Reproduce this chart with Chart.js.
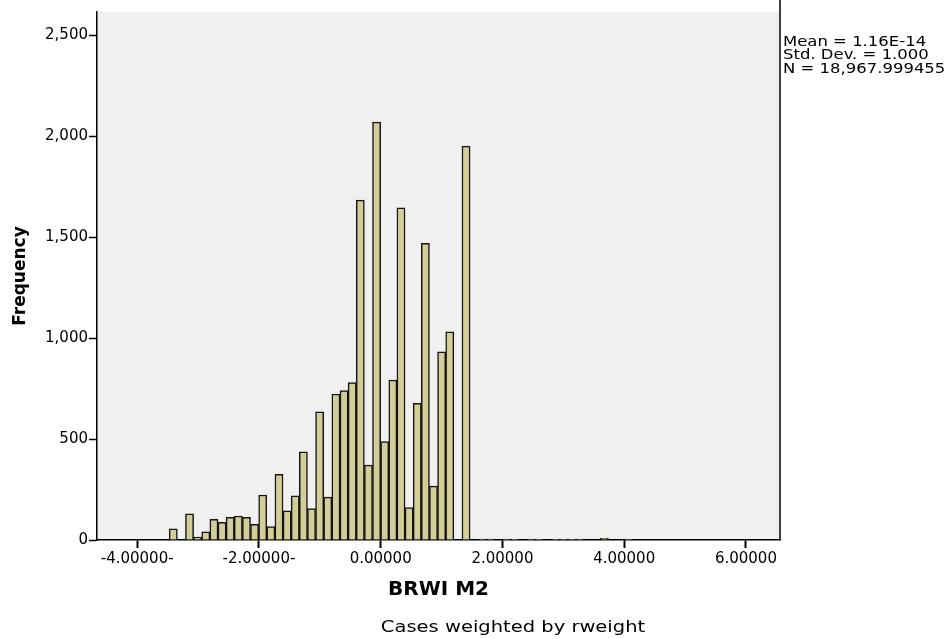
<!DOCTYPE html>
<html>
<head>
<meta charset="utf-8">
<script src="https://cdn.jsdelivr.net/npm/chart.js@4.4.1/dist/chart.umd.min.js"></script>
<style>
  body { margin: 0; background: #fff; }
  canvas { display: block; }
</style>
</head>
<body>
<canvas id="hist" width="952" height="639"></canvas>
<script>
"use strict";

//////// histogram data ////////
const binStart = -3.474;
const binWidth = 0.1336;
const binCounts = [
  55, 0, 130, 15, 40, 102, 88, 112, 119, 112,
  77, 223, 66, 325, 144, 219, 436, 155, 634, 212,
  723, 740, 779, 1683, 371, 2069, 487, 792, 1644, 160,
  677, 1469, 267, 932, 1030, 0, 1950, 0, 4, 4,
  0, 4, 3, 0, 4, 3, 0, 3, 3, 3,
  4, 0, 0, 8, 0, 0, 3
];
const xTicks = [-4, -2, 0, 2, 4, 6];
const xTickLabels = ["-4.00000-", "-2.00000-", "0.00000", "2.00000", "4.00000", "6.00000"];
const yTicks = [0, 500, 1000, 1500, 2000, 2500];
const statLines = ["Mean = 1.16E-14", "Std. Dev. = 1.000", "N = 18,967.999455"];
const footNote = "Cases weighted by rweight";

const points = binCounts.map((n, i) => ({ x: binStart + (i + 0.5) * binWidth, y: n }));

const font = "'DejaVu Sans', 'Liberation Sans', Arial, sans-serif";

// squeeze/stretch text horizontally like the spss output does
function wideText(ctx, txt, x, y, sx, align) {
  ctx.save();
  ctx.translate(x, y);
  ctx.scale(sx, 1);
  ctx.textAlign = align || "left";
  ctx.fillText(txt, 0, 0);
  ctx.restore();
}

// grey plot panel, right frame line, stats box text and footnote
const framePlugin = {
  id: "frame",
  beforeDraw(chart) {
    const { ctx, chartArea: a } = chart;
    ctx.save();
    ctx.fillStyle = "#f0f0f0";
    ctx.fillRect(a.left, a.top, a.right - a.left, a.bottom - a.top);
    ctx.restore();
  },
  afterDraw(chart) {
    const { ctx, chartArea: a } = chart;
    ctx.save();
    ctx.strokeStyle = "#000";
    ctx.lineWidth = 1.5;
    ctx.beginPath();
    ctx.moveTo(a.right, 0);
    ctx.lineTo(a.right, a.bottom);
    ctx.stroke();

    ctx.fillStyle = "#000";
    ctx.textBaseline = "middle";
    ctx.font = "13.5px " + font;
    statLines.forEach((t, i) => wideText(ctx, t, a.right + 3, 42 + i * 13.5, 1.22));

    ctx.font = "15px " + font;
    wideText(ctx, footNote, 513, 628, 1.3, "center");
    ctx.restore();
  }
};

new Chart(document.getElementById("hist"), {
  type: "bar",
  data: {
    datasets: [
      {
        data: points,
        backgroundColor: "#d3ce98",
        borderColor: "#141414",
        borderWidth: 1.5,
        barPercentage: 1,
        categoryPercentage: 1,
        grouped: false,
      },
    ],
  },
  options: {
    responsive: false,
    animation: false,
    layout: { padding: { top: 12, right: 172, left: 0, bottom: 0 } },
    plugins: {
      legend: { display: false },
      tooltip: { enabled: false },
    },
    scales: {
      x: {
        type: "linear",
        offset: false,
        min: -4.66,
        max: 6.56,
        afterBuildTicks: (s) => {
          s.ticks = xTicks.map((v) => ({ value: v }));
        },
        afterFit: (s) => {
          s.height = 99;
        },
        ticks: {
          autoSkip: false,
          maxRotation: 0,
          padding: 2,
          color: "#000",
          font: { family: font, size: 15 },
          callback: (v) => xTickLabels[xTicks.indexOf(v)],
        },
        grid: { offset: false, drawOnChartArea: false, tickLength: 8, tickWidth: 2, color: "#000" },
        border: { color: "#000", width: 1.5 },
        title: {
          display: true,
          text: "BRWI M2",
          color: "#000",
          font: { family: font, size: 20, weight: "bold" },
          padding: { top: 0, bottom: 37 },
        },
      },
      y: {
        min: 0,
        max: 2614,
        afterBuildTicks: (s) => {
          s.ticks = yTicks.map((v) => ({ value: v }));
        },
        afterFit: (s) => {
          s.width = 97;
        },
        ticks: {
          padding: 1,
          color: "#000",
          font: { family: font, size: 15 },
          callback: (v) => v.toLocaleString("en-US"),
        },
        grid: { drawOnChartArea: false, tickLength: 8, tickWidth: 1.5, color: "#000" },
        border: { color: "#000", width: 1.5 },
        title: {
          display: true,
          text: "Frequency",
          color: "#000",
          font: { family: font, size: 17, weight: "bold" },
          padding: { top: 10, bottom: 0 },
        },
      },
    },
  },
  plugins: [framePlugin],
});
</script>
</body>
</html>
